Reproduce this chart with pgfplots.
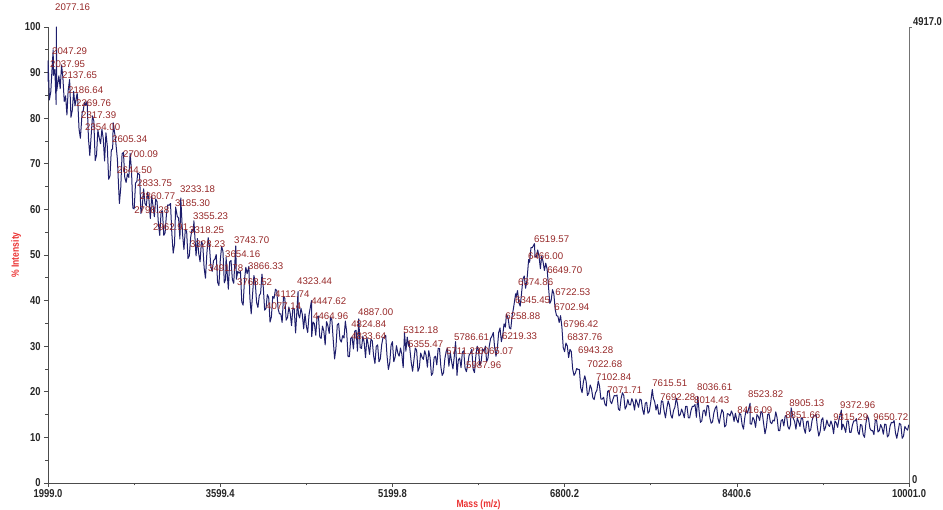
\documentclass[border=0pt]{standalone}
\usepackage{pgfplots}
\pgfplotsset{compat=1.18}
\usepackage{graphicx}
\usepackage{fontspec}
\setmainfont{Liberation Sans}
\definecolor{spec}{RGB}{30,30,108}
\definecolor{lbl}{RGB}{150,40,40}
\definecolor{axlbl}{RGB}{235,50,50}
\newcommand{\nl}[1]{\scalebox{0.82}[1]{#1}}
\begin{document}
\begin{tikzpicture}[x=1bp,y=1bp,
  peak/.style={font=\fontsize{9.7}{9.7}\selectfont, text=lbl, anchor=west, inner sep=0pt}]
\useasboundingbox (0,0) rectangle (943,510);
\begin{axis}[
  at={(48bp,27bp)}, anchor=south west,
  scale only axis, width=861bp, height=456bp,
  xmin=1999, xmax=10001, ymin=0, ymax=100,
  axis x line*=bottom, axis y line*=left,
  axis line style={draw=black!70, line width=0.9bp, -},
  tick align=outside,
  major tick length=4bp, minor tick length=2.5bp,
  tick style={black!70, line width=0.6bp},
  scaled x ticks=false, scaled y ticks=false,
  xtick={1999,3599.4,5199.8,6800.2,8400.6,10001},
  xticklabels={\nl{1999.0},\nl{3599.4},\nl{5199.8},\nl{6800.2},\nl{8400.6},\nl{10001.0}},
  minor x tick num=1,
  ytick={0,10,20,30,40,50,60,70,80,90,100},
  yticklabels={\nl{0},\nl{10},\nl{20},\nl{30},\nl{40},\nl{50},\nl{60},\nl{70},\nl{80},\nl{90},\nl{100}},
  minor y tick num=1,
  ticklabel style={font=\fontsize{11.5}{11.5}\selectfont\bfseries, text=black!85},
  xticklabel style={yshift=1bp},
  xlabel={\nl{Mass (m/z)}}, ylabel={\nl{\% Intensity}},
  label style={font=\fontsize{10.5}{10.5}\selectfont\bfseries, text=axlbl},
  xlabel style={yshift=5bp},
  ylabel style={yshift=-3bp},
  clip=false,
]
\addplot[spec, line width=1bp, line join=round, no markers] coordinates {
(1999,88) (2000,92.6) (2012,84) (2025,85.8) (2037,91) (2047,95) (2050,89.4) (2062.5,90.7) (2075,83.0) (2077,100) (2080,86)
(2100,89.3) (2112.5,86.5) (2125,91.7) (2137,89) (2150,83.7) (2162.5,84.9) (2175,80.7) (2186,86) (2200,88.5) (2212.5,80.2)
(2225,81.8) (2237.5,85.9) (2250,82.7) (2270,85.5) (2275,84.1) (2287.5,77.6) (2300,75.6) (2317,81.5) (2325,81.4) (2337.5,83.5)
(2350,82.8) (2362.5,83.7) (2375,75.6) (2387.5,71.8) (2400,76.1) (2412.5,80.5) (2425,79.4) (2437.5,70.7) (2450,71.9) (2462.5,77.4)
(2475,75.7) (2487.5,74.4) (2500,77.6) (2512.5,75.5) (2525,70.6) (2537.5,76.8) (2550,73.9) (2562.5,66.6) (2575,67.3) (2587.5,73.0)
(2600,73.3) (2605,79) (2625,75.7) (2644,71) (2650,67.7) (2662.5,61.3) (2675,64.7) (2687.5,72.2) (2700,72.5) (2712.5,67.0)
(2725,65.9) (2737.5,67.8) (2750,67.0) (2762.5,72.3) (2775,68.5) (2787.5,60.3) (2800,60.1) (2812.5,65.8) (2825,66.1) (2833,68)
(2850,67.6) (2862.5,59.1) (2875,60.5) (2887.5,64.5) (2900,61.3) (2912.5,60.8) (2925,63.8) (2937.5,62.0) (2950,58.0) (2962.5,62.9)
(2975,60.8) (2987.5,58.4) (3000,62.3) (3012.5,61.7) (3025,56.8) (3037.5,54.3) (3050,59.4) (3062.5,59.7) (3075,54.3) (3087.5,54.9)
(3100,59.0) (3112.5,61.0) (3125,60.9) (3137.5,61.3) (3150,54.7) (3162.5,50.4) (3175,52.4) (3185,60.5) (3200,58.5) (3212.5,58.1)
(3225,53.5) (3233,62.5) (3250,54.4) (3262.5,51.2) (3275,55.6) (3287.5,55.2) (3300,49.2) (3312.5,49.8) (3325,53.9) (3337.5,55.6)
(3350,55.2) (3355,57.5) (3375,49.8) (3387.5,53.6) (3400,50.3) (3412.5,48.5) (3425,53.0) (3437.5,52.2) (3450,47.2) (3462.5,44.9)
(3475,50.2) (3487.5,53.8) (3500,51.8) (3512.5,47.4) (3525,46.4) (3537.5,48.8) (3550,49.1) (3562.5,50.1) (3575,44.0) (3587.5,43.3)
(3600,48.8) (3612.5,51.9) (3625,50.8) (3637.5,43.9) (3650,44.7) (3654,49.5) (3675,42.5) (3687.5,48.5) (3700,48.8) (3712.5,44.6)
(3725,43.8) (3744,52) (3750,44.7) (3762.5,46.4) (3775,46.0) (3787.5,46.4) (3800,39.7) (3812.5,39.0) (3825,44.5) (3837.5,47.3)
(3850,45.9) (3866,47.5) (3875,40.6) (3887.5,37.1) (3900,41.3) (3912.5,45.5) (3925,44.1) (3937.5,39.6) (3950,38.5) (3962.5,41.1)
(3975,41.6) (3987.5,45.8) (4000,42.9) (4012.5,37.9) (4025,38.3) (4037.5,41.3) (4050,40.7) (4062.5,35.3) (4075,36.4) (4087.5,40.9)
(4100,40.5) (4113,42.5) (4125,42.2) (4137.5,38.2) (4150,37.1) (4162.5,37.1) (4175,35.2) (4187.5,40.9) (4200,40.5) (4212.5,35.7)
(4225,36.3) (4237.5,38.6) (4250,37.2) (4262.5,34.5) (4275,38.4) (4287.5,38.1) (4300,32.9) (4323,42) (4325,37.1) (4337.5,36.2)
(4350,38.3) (4362.5,37.0) (4375,33.8) (4387.5,37.1) (4400,34.4) (4412.5,33.0) (4425,36.9) (4448,40) (4450,32.1) (4462.5,35.3)
(4475,34.9) (4487.5,32.4) (4500,36.4) (4512.5,36.6) (4525,32.0) (4537.5,31.7) (4550,34.4) (4562.5,33.3) (4575,30.3) (4587.5,35.4)
(4600,34.5) (4612.5,32.8) (4625,36.4) (4637.5,35.7) (4650,31.3) (4662.5,27.2) (4675,29.6) (4687.5,34.7) (4700,35.0) (4712.5,31.5)
(4725,30.9) (4737.5,32.3) (4750,31.8) (4762.5,35.5) (4775,33.1) (4787.5,27.7) (4800,27.7) (4812.5,31.7) (4825,32.0) (4837.5,29.4)
(4850,33.3) (4862.5,33.5) (4875,28.9) (4887,36) (4900,29.7) (4912.5,29.5) (4925,32.2) (4937.5,30.8) (4950,27.5) (4962.5,31.9)
(4975,30.3) (4987.5,28.2) (5000,31.5) (5012.5,31.2) (5025,27.9) (5037.5,26.2) (5050,30.0) (5062.5,30.3) (5075,26.6) (5087.5,27.2)
(5100,30.3) (5112.5,31.9) (5125,31.9) (5137.5,32.4) (5150,27.8) (5162.5,24.9) (5175,26.4) (5187.5,30.2) (5200,31.0) (5212.5,26.6)
(5225,27.6) (5237.5,30.1) (5250,28.5) (5262.5,27.8) (5275,29.6) (5287.5,28.2) (5300,25.3) (5312,33) (5325,28.9) (5337.5,32.0)
(5350,30.0) (5355,31) (5375,26.4) (5387.5,24.5) (5400,27.0) (5412.5,29.6) (5425,29.1) (5437.5,24.5) (5450,25.3) (5462.5,28.5)
(5475,27.6) (5487.5,27.1) (5500,29.0) (5512.5,28.0) (5525,25.4) (5537.5,29.0) (5550,27.5) (5562.5,23.6) (5575,24.1) (5587.5,27.5)
(5600,27.8) (5612.5,25.9) (5625,29.5) (5637.5,29.5) (5650,25.5) (5662.5,23.6) (5675,24.2) (5687.5,27.3) (5700,28.9) (5711,29.5)
(5725,25.6) (5737.5,28.6) (5750,26.6) (5762.5,25.0) (5775,27.8) (5787,31) (5800,23.6) (5812.5,27.0) (5825,27.4) (5837.5,25.3)
(5850,28.7) (5862.5,29.0) (5875,25.2) (5887.5,24.4) (5900,26.0) (5912.5,28.0) (5925,28.5) (5937.5,29.3) (5950,25.0) (5962.5,24.2)
(5975,27.8) (5987.5,30.0) (6000,29.1) (6012.5,25.7) (6025,26.7) (6037.5,29.4) (6050,28.9) (6065,30) (6075,26.6) (6087.5,27.3)
(6100,30.0) (6112.5,31.7) (6125,32.2) (6137.5,33.0) (6150,29.7) (6162.5,27.8) (6175,29.5) (6187.5,33.0) (6200,34.0) (6212.5,31.0)
(6225,32.4) (6237.5,34.9) (6250,34.2) (6259,37) (6275,36.2) (6287.5,34.0) (6300,33.8) (6312.5,36.7) (6325,38.3) (6345,41.5)
(6350,40.8) (6362.5,42.2) (6375,39.5) (6387.5,38.8) (6400,41.6) (6412.5,44.7) (6425,45.4) (6437.5,42.7) (6450,44.4) (6466,49)
(6475,48.4) (6487.5,51.6) (6500,51.6) (6520,52.5) (6525,49.8) (6537.5,49.5) (6550,51.1) (6562.5,49.7) (6575,47.0) (6587.5,49.8)
(6600,48.5) (6612.5,46.6) (6625,48.2) (6637.5,46.9) (6650,43.2) (6662.5,39.4) (6675,40.0) (6687.5,42.4) (6700,41.5) (6712.5,38.1)
(6725,36.7) (6737.5,36.6) (6750,35.2) (6762.5,36.7) (6775,34.2) (6787.5,29.7) (6800,28.8) (6812.5,30.7) (6825,30.1) (6837.5,27.5)
(6850,29.3) (6862.5,28.8) (6875,25.0) (6887.5,23.6) (6900,24.1) (6912.5,25.1) (6925,24.9) (6937.5,24.9) (6950,20.9) (6962.5,19.8)
(6975,22.2) (6987.5,23.5) (7000,22.3) (7012.5,19.2) (7025,19.7) (7037.5,21.5) (7050,20.7) (7062.5,18.7) (7075,18.3) (7087.5,19.8)
(7100,20.3) (7112.5,22.4) (7125,21.2) (7137.5,18.4) (7150,18.4) (7162.5,18.8) (7175,17.3) (7187.5,16.9) (7200,20.1) (7212.5,20.3)
(7225,17.9) (7237.5,17.4) (7250,18.4) (7262.5,19.2) (7275,19.1) (7287.5,19.3) (7300,16.2) (7312.5,15.9) (7325,18.5) (7337.5,19.8)
(7350,19.2) (7362.5,16.2) (7375,16.8) (7387.5,18.3) (7400,17.2) (7412.5,17.1) (7425,18.5) (7437.5,17.7) (7450,16.0) (7462.5,18.4)
(7475,17.6) (7487.5,16.6) (7500,18.4) (7512.5,18.2) (7525,16.1) (7537.5,15.0) (7550,17.5) (7562.5,17.7) (7575,15.3) (7587.5,15.7)
(7600,17.6) (7615,20.5) (7625,18.6) (7637.5,17.8) (7650,16.0) (7662.5,17.2) (7675,15.1) (7687.5,15.1) (7700,18.0) (7712.5,17.9)
(7725,15.8) (7737.5,14.3) (7750,16.4) (7762.5,18.0) (7775,17.1) (7787.5,14.9) (7800,14.2) (7812.5,15.9) (7825,16.6) (7837.5,18.6)
(7850,17.3) (7862.5,14.7) (7875,15.0) (7887.5,16.2) (7900,15.4) (7912.5,14.3) (7925,16.8) (7937.5,16.8) (7950,14.3) (7962.5,14.3)
(7975,15.9) (7987.5,16.8) (8000,16.8) (8012.5,17.2) (8025,14.4) (8037,19) (8050,15.8) (8062.5,13.3) (8075,13.6) (8087.5,15.8)
(8100,16.0) (8112.5,14.7) (8125,17.0) (8137.5,16.9) (8150,14.3) (8162.5,13.1) (8175,13.4) (8187.5,15.4) (8200,16.4) (8212.5,16.9)
(8225,14.2) (8237.5,13.1) (8250,14.8) (8262.5,16.1) (8275,15.5) (8287.5,12.3) (8300,12.7) (8312.5,15.2) (8325,15.1) (8337.5,14.7)
(8350,15.8) (8362.5,15.1) (8375,13.5) (8387.5,15.3) (8400,13.9) (8412.5,13.2) (8425,15.3) (8437.5,15.0) (8450,12.8) (8462.5,11.8)
(8475,14.4) (8487.5,16.1) (8500,15.3) (8524,17.5) (8525,13.0) (8537.5,12.9) (8550,14.4) (8562.5,13.8) (8575,12.2) (8587.5,15.0)
(8600,14.6) (8612.5,13.7) (8625,15.7) (8637.5,15.3) (8650,13.0) (8662.5,10.8) (8675,12.2) (8687.5,15.0) (8700,15.2) (8712.5,13.3)
(8725,13.0) (8737.5,13.8) (8750,13.6) (8762.5,15.6) (8775,14.3) (8787.5,11.5) (8800,11.5) (8812.5,13.7) (8825,13.9) (8837.5,12.5)
(8850,14.7) (8862.5,14.8) (8875,12.4) (8887.5,11.8) (8900,12.8) (8905,16.5) (8925,14.2) (8937.5,13.5) (8950,11.8) (8962.5,14.2)
(8975,13.4) (8987.5,12.4) (9000,14.3) (9012.5,14.1) (9025,12.0) (9037.5,10.9) (9050,13.4) (9062.5,13.6) (9075,11.3) (9087.5,11.7)
(9100,13.7) (9112.5,14.7) (9125,14.7) (9137.5,15.0) (9150,12.1) (9162.5,10.3) (9175,11.3) (9187.5,13.8) (9200,14.3) (9212.5,11.5)
(9225,12.2) (9237.5,13.8) (9250,12.8) (9262.5,12.4) (9275,13.6) (9287.5,12.7) (9300,10.8) (9312.5,13.6) (9325,13.2) (9337.5,12.2)
(9350,14.0) (9373,16) (9375,11.7) (9387.5,12.9) (9400,12.2) (9412.5,11.1) (9425,13.6) (9437.5,13.6) (9450,11.1) (9462.5,11.1)
(9475,12.7) (9487.5,13.6) (9500,13.6) (9512.5,14.1) (9525,11.3) (9537.5,10.6) (9550,12.8) (9562.5,12.7) (9575,10.6) (9587.5,10.0)
(9600,13.0) (9612.5,14.8) (9625,14.1) (9637.5,12.0) (9650,11.5) (9662.5,11.5) (9675,10.6) (9687.5,13.8) (9700,13.7) (9712.5,11.2)
(9725,11.5) (9737.5,12.8) (9750,12.1) (9762.5,10.7) (9775,12.9) (9787.5,12.8) (9800,10.1) (9812.5,10.5) (9825,12.5) (9837.5,13.3)
(9850,13.2) (9862.5,13.7) (9875,11.0) (9887.5,9.8) (9900,11.4) (9912.5,13.1) (9925,12.8) (9937.5,9.8) (9950,10.3) (9962.5,12.4)
(9975,11.9) (9987.5,11.6) (10000,12.8)
};
% right axis
\draw[black!55, line width=0.9bp] (rel axis cs:1,0) -- (rel axis cs:1,1) -- ([xshift=3bp]rel axis cs:1,1);
\node[anchor=south west, inner sep=0pt, font=\fontsize{11.5}{11.5}\selectfont\bfseries, text=black!85, xshift=4bp, yshift=1bp] at (rel axis cs:1,1) {\nl{4917.0}};
\node[anchor=west, inner sep=0pt, font=\fontsize{11.5}{11.5}\selectfont\bfseries, text=black!85, xshift=3bp, yshift=3bp] at (rel axis cs:1,0) {\nl{0}};
% peak labels
\node[peak] at (axis cs:2064,104.4) {2077.16};
\node[peak] at (axis cs:2036,94.7) {2047.29};
\node[peak] at (axis cs:2017,91.9) {2037.95};
\node[peak] at (axis cs:2129,89.5) {2137.65};
\node[peak] at (axis cs:2185,86.2) {2186.64};
\node[peak] at (axis cs:2259,83.3) {2269.76};
\node[peak] at (axis cs:2306,80.7) {2317.39};
\node[peak] at (axis cs:2343,78.1) {2354.00};
\node[peak] at (axis cs:2594,75.4) {2605.34};
\node[peak] at (axis cs:2696,72.1) {2700.09};
\node[peak] at (axis cs:2640,68.6) {2644.50};
\node[peak] at (axis cs:2826,65.8) {2833.75};
\node[peak] at (axis cs:2854,62.9) {2860.77};
\node[peak] at (axis cs:3225,64.5) {3233.18};
\node[peak] at (axis cs:3179,61.4) {3185.30};
\node[peak] at (axis cs:2799,59.9) {2798.28};
\node[peak] at (axis cs:3346,58.6) {3355.23};
\node[peak] at (axis cs:2975,56.1) {2962.91};
\node[peak] at (axis cs:3309,55.5) {3318.25};
\node[peak] at (axis cs:3319,52.4) {3328.23};
\node[peak] at (axis cs:3728,53.3) {3743.70};
\node[peak] at (axis cs:3644,50.2) {3654.16};
\node[peak] at (axis cs:3486,47.1) {3491.78};
\node[peak] at (axis cs:3858,47.6) {3866.33};
\node[peak] at (axis cs:3755,44.1) {3768.52};
\node[peak] at (axis cs:4313,44.3) {4323.44};
\node[peak] at (axis cs:4109,41.4) {4112.74};
\node[peak] at (axis cs:4025,38.8) {4077.14};
\node[peak] at (axis cs:4444,39.9) {4447.62};
\node[peak] at (axis cs:4462,36.6) {4464.96};
\node[peak] at (axis cs:4880,37.5) {4887.00};
\node[peak] at (axis cs:4816,34.9) {4824.84};
\node[peak] at (axis cs:4816,32.2) {4833.64};
\node[peak] at (axis cs:5299,33.6) {5312.18};
\node[peak] at (axis cs:5345,30.5) {5355.47};
\node[peak] at (axis cs:5772,32.0) {5786.61};
\node[peak] at (axis cs:5698,28.9) {5711.23};
\node[peak] at (axis cs:5996,28.9) {6065.07};
\node[peak] at (axis cs:5884,25.9) {5987.96};
\node[peak] at (axis cs:6218,32.2) {6219.33};
\node[peak] at (axis cs:6247,36.6) {6258.88};
\node[peak] at (axis cs:6339,40.1) {6345.45};
\node[peak] at (axis cs:6367,44.1) {6374.86};
\node[peak] at (axis cs:6516,53.5) {6519.57};
\node[peak] at (axis cs:6460,49.8) {6466.00};
\node[peak] at (axis cs:6637,46.7) {6649.70};
\node[peak] at (axis cs:6712,41.9) {6722.53};
\node[peak] at (axis cs:6703,38.6) {6702.94};
\node[peak] at (axis cs:6786,34.9) {6796.42};
\node[peak] at (axis cs:6824,32.0) {6837.76};
\node[peak] at (axis cs:6925,29.2) {6943.28};
\node[peak] at (axis cs:7009,26.1) {7022.68};
\node[peak] at (axis cs:7092,23.2) {7102.84};
\node[peak] at (axis cs:7195,20.4) {7071.71};
\node[peak] at (axis cs:7613,21.9) {7615.51};
\node[peak] at (axis cs:7688,18.9) {7692.28};
\node[peak] at (axis cs:8031,21.1) {8036.61};
\node[peak] at (axis cs:8003,18.2) {8014.43};
\node[peak] at (axis cs:8505,19.5) {8523.82};
\node[peak] at (axis cs:8404,16.0) {8416.09};
\node[peak] at (axis cs:8887,17.5) {8905.13};
\node[peak] at (axis cs:8850,14.9) {8851.66};
\node[peak] at (axis cs:9360,17.1) {9372.96};
\node[peak] at (axis cs:9295,14.5) {9315.29};
\node[peak] at (axis cs:9667,14.5) {9650.72};
\end{axis}
\end{tikzpicture}
\end{document}
